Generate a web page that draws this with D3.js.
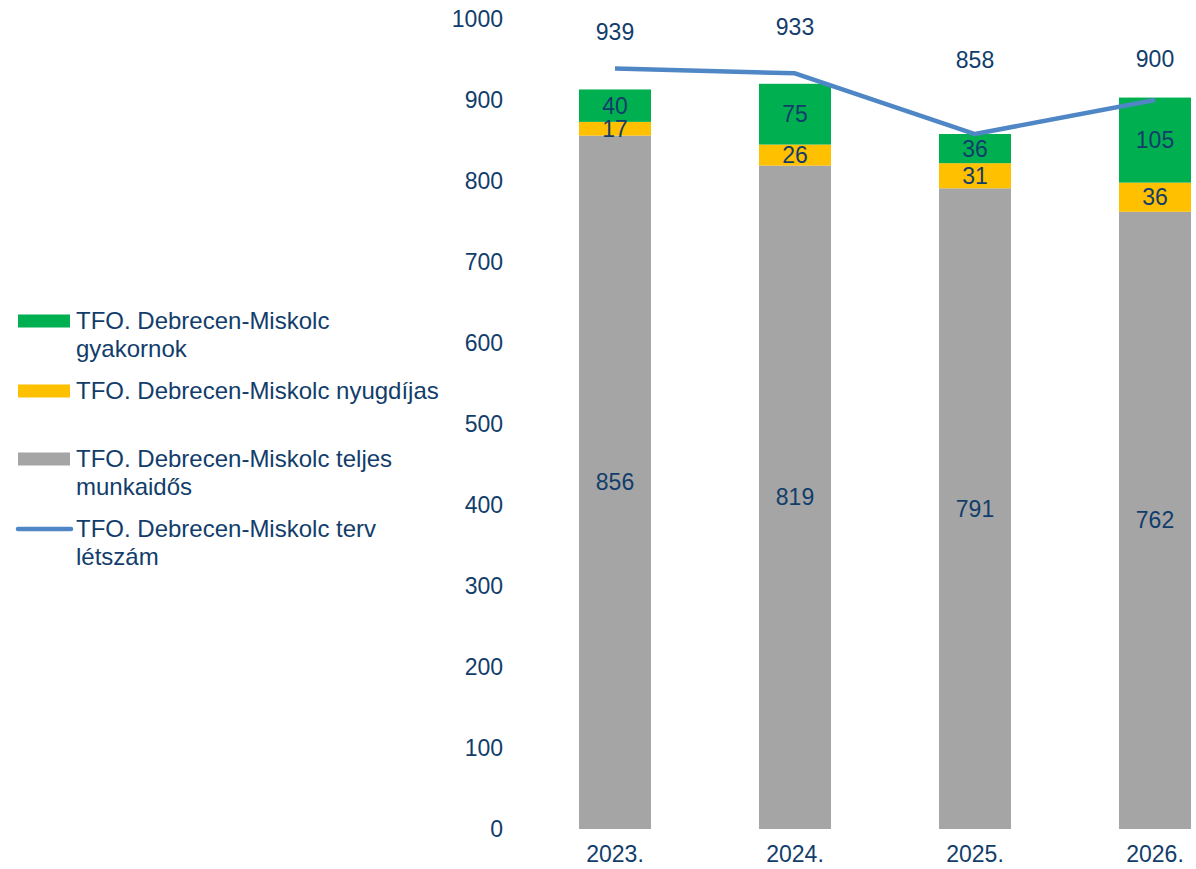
<!DOCTYPE html>
<html>
<head>
<meta charset="utf-8">
<script src="https://cdn.jsdelivr.net/npm/d3@7"></script>
<style>
  html, body { margin: 0; padding: 0; background: #fff; }
  text { font-family: "Liberation Sans", Arial, sans-serif; fill: #123d6b; }
</style>
</head>
<body>
<script>
var years = ["2023.", "2024.", "2025.", "2026."];
var fullTime = [856, 819, 791, 762];
var pension = [17, 26, 31, 36];
var trainee = [40, 75, 36, 105];
var planned = [939, 933, 858, 900];
var yTicks = [0, 100, 200, 300, 400, 500, 600, 700, 800, 900, 1000];

// manual nudges of the plan labels, as in the original
var plannedLabelDy = [-36, -46, -74, -41];

var width = 1196, height = 869;
var fs = "23px";

var svg = d3.select("body").append("svg")
  .attr("width", width)
  .attr("height", height);

var x = d3.scaleBand()
  .domain(years)
  .range([525, 1245])
  .paddingInner(0.6)
  .paddingOuter(0.3);

var y = d3.scaleLinear()
  .domain([0, 1000])
  .range([829, 19]);

// y axis labels
var yAxis = svg.append("g")
  .attr("transform", "translate(503,0)")
  .call(d3.axisLeft(y).tickValues(yTicks).tickSize(0).tickPadding(0).tickFormat(d3.format("d")));
yAxis.select(".domain").remove();
yAxis.selectAll("text")
  .style("font-size", fs)
  .attr("fill", "#123d6b");

// x axis labels
var xAxis = svg.append("g")
  .attr("transform", "translate(0,846)")
  .call(d3.axisBottom(x).tickSize(0).tickPadding(0));
xAxis.select(".domain").remove();
xAxis.selectAll("text")
  .style("font-size", fs)
  .attr("fill", "#123d6b");

var series = [
  {key: "full", color: "#a5a5a5"},
  {key: "pension", color: "#ffc000"},
  {key: "trainee", color: "#00b050"}
];

var rows = years.map(function(yr, i) {
  return {year: yr, full: fullTime[i], pension: pension[i], trainee: trainee[i]};
});

var stacked = d3.stack().keys(series.map(function(s) { return s.key; }))(rows);

var layers = svg.selectAll(".layer")
  .data(stacked)
  .enter().append("g")
  .attr("class", "layer")
  .attr("fill", function(d, i) { return series[i].color; });

layers.selectAll("rect")
  .data(function(d) { return d; })
  .enter().append("rect")
  .attr("x", function(d) { return x(d.data.year); })
  .attr("y", function(d) { return y(d[1]); })
  .attr("width", x.bandwidth())
  .attr("height", function(d) { return y(d[0]) - y(d[1]); });

// segment labels drawn after all bars
var labelLayers = svg.selectAll(".lab-layer")
  .data(stacked)
  .enter().append("g")
  .attr("class", "lab-layer");

labelLayers.selectAll(".val")
  .data(function(d) { return d; })
  .enter().append("text")
  .attr("class", "val")
  .attr("x", function(d) { return x(d.data.year) + x.bandwidth() / 2; })
  .attr("y", function(d) { return y((d[0] + d[1]) / 2); })
  .attr("dy", "0.35em")
  .attr("text-anchor", "middle")
  .style("font-size", fs)
  .text(function(d) { return d[1] - d[0]; });

// plan line
var line = d3.line()
  .x(function(d, i) { return x(years[i]) + x.bandwidth() / 2; })
  .y(function(d) { return y(d); });

svg.append("path")
  .datum(planned)
  .attr("d", line)
  .attr("fill", "none")
  .attr("stroke", "#4f86c6")
  .attr("stroke-width", 4.5)
  .attr("stroke-linejoin", "round");

svg.selectAll(".plan")
  .data(planned)
  .enter().append("text")
  .attr("class", "plan")
  .attr("x", function(d, i) { return x(years[i]) + x.bandwidth() / 2; })
  .attr("y", function(d, i) { return y(d) + plannedLabelDy[i]; })
  .attr("dy", "0.35em")
  .attr("text-anchor", "middle")
  .style("font-size", fs)
  .text(function(d) { return d; });

// legend
var legendItems = [
  {lines: ["TFO. Debrecen-Miskolc", "gyakornok"], color: "#00b050", type: "rect", y: 321},
  {lines: ["TFO. Debrecen-Miskolc nyugdíjas"], color: "#ffc000", type: "rect", y: 391},
  {lines: ["TFO. Debrecen-Miskolc teljes", "munkaidős"], color: "#a5a5a5", type: "rect", y: 459},
  {lines: ["TFO. Debrecen-Miskolc terv", "létszám"], color: "#4f86c6", type: "line", y: 529}
];

var lg = svg.append("g").attr("class", "legend");
legendItems.forEach(function(item) {
  if (item.type === "rect") {
    lg.append("rect")
      .attr("x", 18).attr("y", item.y - 6.5)
      .attr("width", 52).attr("height", 13)
      .attr("fill", item.color);
  } else {
    lg.append("line")
      .attr("x1", 18).attr("x2", 71)
      .attr("y1", item.y).attr("y2", item.y)
      .attr("stroke", item.color)
      .attr("stroke-width", 4.5)
      .attr("stroke-linecap", "round");
  }
  var t = lg.append("text")
    .attr("x", 76)
    .attr("y", item.y)
    .style("font-size", "24px");
  item.lines.forEach(function(s, j) {
    t.append("tspan")
      .attr("x", 76)
      .attr("dy", j === 0 ? "0.35em" : "28px")
      .text(s);
  });
});
</script>
</body>
</html>
